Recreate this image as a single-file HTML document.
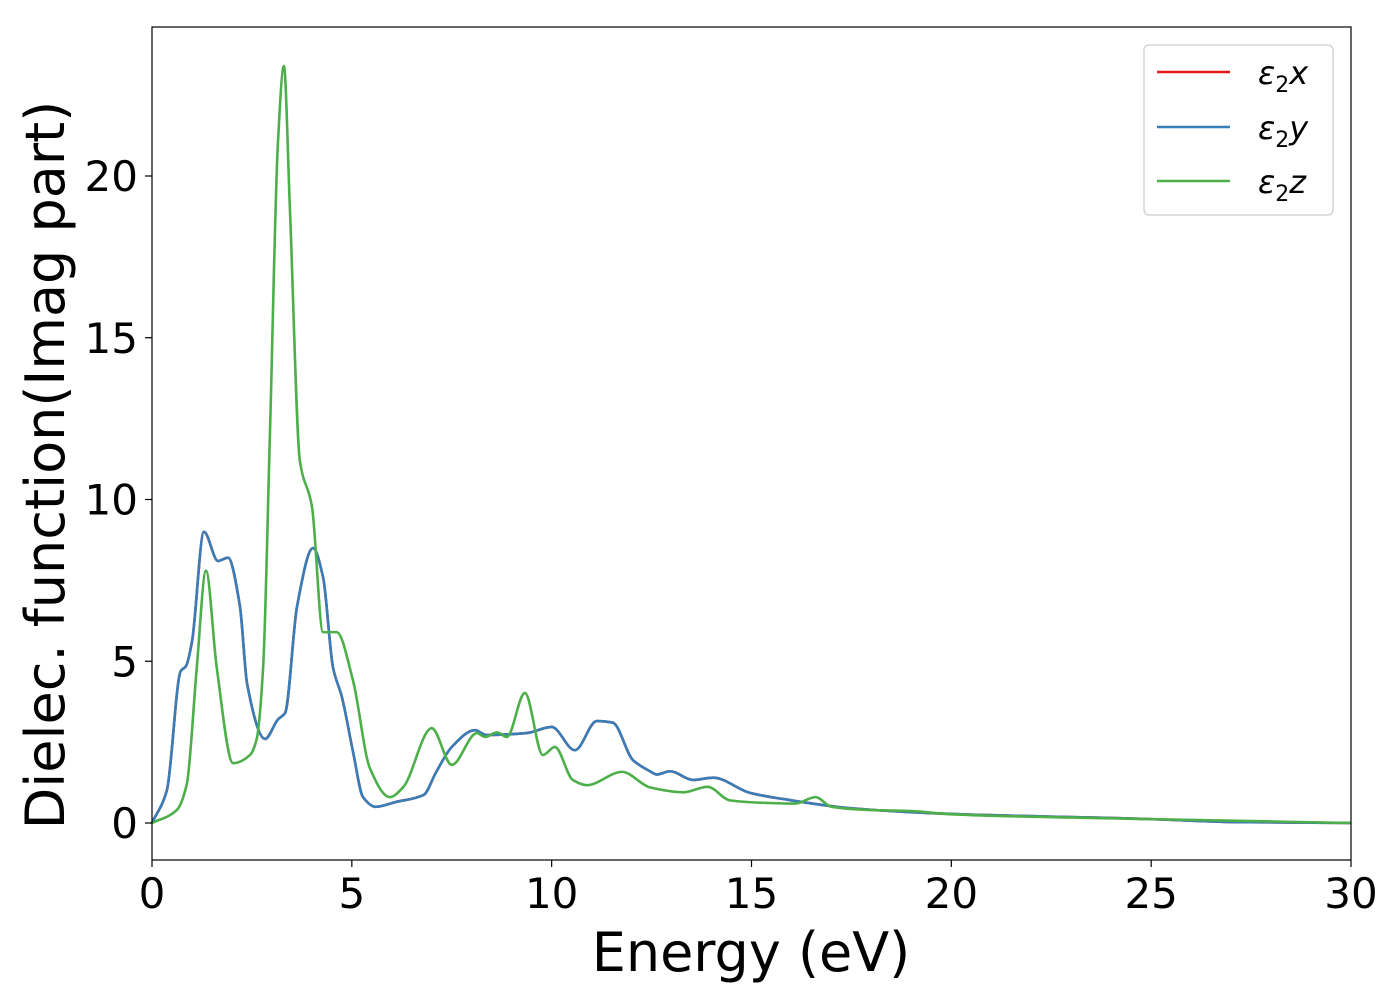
<!DOCTYPE html>
<html><head><meta charset="utf-8"><style>
html,body{margin:0;padding:0;background:#fff;}
svg text{font-family:"DejaVu Sans","Liberation Sans",sans-serif;fill:#000;}
</style></head><body>
<svg id="chart" width="1400" height="1000" xmlns="http://www.w3.org/2000/svg">
<g id="plot"></g>
<rect x="152" y="27" width="1199" height="833" fill="none" stroke="#000" stroke-width="1.2"/>
<g id="xticks"></g>
<g id="yticks"></g>
<text x="751" y="971" font-size="54" text-anchor="middle">Energy (eV)</text>
<text transform="translate(64,465) rotate(-90)" font-size="54" text-anchor="middle">Dielec. function(Imag part)</text>
<g>
<rect x="1144" y="45" width="189" height="170" rx="5" fill="#fff" stroke="#ccc" stroke-width="1.2"/>
<line x1="1157" y1="72" x2="1230" y2="72" stroke="#e41a1c" stroke-width="2.5"/>
<text x="1258" y="84" font-size="32" font-style="italic">ε<tspan font-size="22" dy="8" font-style="normal">2</tspan><tspan dy="-8">x</tspan></text>
<line x1="1157" y1="127" x2="1230" y2="127" stroke="#377eb8" stroke-width="2.5"/>
<text x="1258" y="139" font-size="32" font-style="italic">ε<tspan font-size="22" dy="8" font-style="normal">2</tspan><tspan dy="-8">y</tspan></text>
<line x1="1157" y1="181" x2="1230" y2="181" stroke="#4daf4a" stroke-width="2.5"/>
<text x="1258" y="193" font-size="32" font-style="italic">ε<tspan font-size="22" dy="8" font-style="normal">2</tspan><tspan dy="-8">z</tspan></text>
</g>
</svg>
<script>
const xyEnergy=[0,0.37,0.72,0.85,1.0,1.3,1.65,1.9,2.2,2.38,2.83,3.15,3.33,3.63,4.03,4.28,4.53,4.75,5.03,5.28,5.6,6.1,6.8,7.1,7.5,8.08,8.37,9.38,10.0,10.58,11.13,11.53,12.03,12.46,12.63,12.96,13.54,14.04,14.96,15.8,17.46,20,25,27,30];
const xyValues=[0,1.0,4.7,4.85,5.6,9.0,8.1,8.2,6.7,4.3,2.6,3.2,3.4,6.7,8.5,7.6,4.8,3.9,2.2,0.8,0.5,0.65,0.87,1.55,2.35,2.87,2.72,2.78,2.97,2.25,3.15,3.1,1.95,1.6,1.5,1.6,1.33,1.4,0.93,0.74,0.46,0.28,0.12,0.03,0];
const zEnergy=[0,0.62,0.87,1.12,1.35,1.62,2.03,2.45,2.62,2.78,2.95,3.15,3.3,3.45,3.7,4.0,4.28,4.62,5.03,5.45,5.95,6.28,7.0,7.5,8.13,8.33,8.63,8.88,9.33,9.78,10.08,10.53,10.88,11.76,12.46,13.3,13.9,14.46,15.4,16.1,16.6,17.0,18,19,20,25,30];
const zValues=[0,0.4,1.2,4.8,7.8,4.8,1.85,2.1,2.6,4.8,12,21,23.4,19,11.2,9.8,5.9,5.9,4.4,1.7,0.8,1.1,2.93,1.8,2.78,2.66,2.8,2.66,4.02,2.1,2.35,1.33,1.17,1.58,1.1,0.95,1.12,0.7,0.62,0.6,0.8,0.5,0.4,0.37,0.27,0.12,0];
const xTickLabels=[0,5,10,15,20,25,30];
const yTickLabels=[0,5,10,15,20];

const X=v=>152+v*(1199/30);
const Y=v=>823-v*32.35;
const NS="http://www.w3.org/2000/svg";
function pathFor(xs,ys){
  const px=xs.map(X), py=ys.map(Y), n=px.length;
  const d=[],m=new Array(n);
  for(let i=0;i<n-1;i++) d.push((py[i+1]-py[i])/(px[i+1]-px[i]));
  m[0]=d[0]; m[n-1]=d[n-2];
  for(let i=1;i<n-1;i++){
    if(d[i-1]*d[i]<=0) m[i]=0;
    else { const h0=px[i]-px[i-1],h1=px[i+1]-px[i];
      m[i]=3*(h0+h1)/((2*h1+h0)/d[i-1]+(h1+2*h0)/d[i]); }
  }
  let s=`M${px[0]},${py[0]}`;
  for(let i=0;i<n-1;i++){
    const h=(px[i+1]-px[i])/3;
    s+=`C${px[i]+h},${py[i]+m[i]*h} ${px[i+1]-h},${py[i+1]-m[i+1]*h} ${px[i+1]},${py[i+1]}`;
  }
  return s;
}
const plot=document.getElementById('plot');
function addLine(xs,ys,color,name){
  const el=document.createElementNS(NS,'path');
  el.setAttribute('d',pathFor(xs,ys));
  el.setAttribute('fill','none');
  el.setAttribute('stroke',color);
  el.setAttribute('stroke-width','2.6');
  
  
  plot.appendChild(el);
}
addLine(xyEnergy,xyValues,'#e41a1c','series-eps2x');
addLine(xyEnergy,xyValues,'#377eb8','series-eps2y');
addLine(zEnergy,zValues,'#4daf4a','series-eps2z');

const xg=document.getElementById('xticks');
xTickLabels.forEach(v=>{
  const t=document.createElementNS(NS,'line');
  t.setAttribute('x1',X(v));t.setAttribute('x2',X(v));t.setAttribute('y1',860);t.setAttribute('y2',867);
  t.setAttribute('stroke','#000');t.setAttribute('stroke-width','1.2');
  
  
  xg.appendChild(t);
  const s=document.createElementNS(NS,'text');
  s.setAttribute('x',X(v));s.setAttribute('y',908);s.setAttribute('font-size','42');s.setAttribute('text-anchor','middle');
  s.textContent=v;
  
  
  xg.appendChild(s);
});
const yg=document.getElementById('yticks');
yTickLabels.forEach(v=>{
  const t=document.createElementNS(NS,'line');
  t.setAttribute('x1',145);t.setAttribute('x2',152);t.setAttribute('y1',Y(v));t.setAttribute('y2',Y(v));
  t.setAttribute('stroke','#000');t.setAttribute('stroke-width','1.2');
  
  
  yg.appendChild(t);
  const s=document.createElementNS(NS,'text');
  s.setAttribute('x',138);s.setAttribute('y',Y(v)+15);s.setAttribute('font-size','42');s.setAttribute('text-anchor','end');
  s.textContent=v;
  
  
  yg.appendChild(s);
});
</script>
</body></html>
